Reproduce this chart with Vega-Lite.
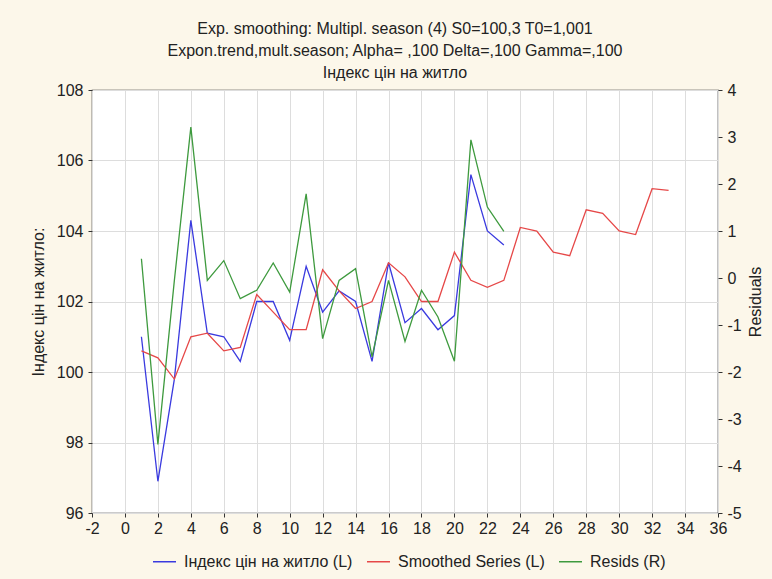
{
  "$schema": "https://vega.github.io/schema/vega-lite/v6.json",
  "width": 626,
  "height": 423,
  "autosize": {"type": "none"},
  "padding": {"left": 92, "top": 90, "right": 54, "bottom": 66},
  "background": "#fcf7ea",
  "title": {
    "text": ["Exp. smoothing: Multipl. season (4) S0=100,3 T0=1,001", "Expon.trend,mult.season; Alpha=  ,100 Delta=,100 Gamma=,100", "Індекс цін на житло"],
    "font": "Liberation Sans",
    "fontSize": 16,
    "fontWeight": "normal",
    "color": "#222",
    "lineHeight": 22,
    "anchor": "middle",
    "offset": 1,
    "dx": -10
  },
  "config": {
    "view": {"stroke": "#333", "strokeWidth": 1.2, "fill": "white"},
    "axis": {
      "labelFont": "Liberation Sans",
      "labelFontSize": 16,
      "labelColor": "#222",
      "labelOverlap": false,
      "titleFont": "Liberation Sans",
      "titleFontSize": 16,
      "titleFontWeight": "normal",
      "titleColor": "#222",
      "domain": false,
      "tickColor": "#333",
      "tickSize": 4,
      "gridColor": "#dddddd",
      "gridWidth": 1
    },
    "legend": {
      "labelFont": "Liberation Sans",
      "labelFontSize": 16,
      "labelColor": "#222"
    }
  },
  "data": {
    "values": [
      {"t": 1, "s": "Індекс цін на житло (L)", "v": 101.0},
      {"t": 2, "s": "Індекс цін на житло (L)", "v": 96.9},
      {"t": 3, "s": "Індекс цін на житло (L)", "v": 99.8},
      {"t": 4, "s": "Індекс цін на житло (L)", "v": 104.3},
      {"t": 5, "s": "Індекс цін на житло (L)", "v": 101.1},
      {"t": 6, "s": "Індекс цін на житло (L)", "v": 101.0},
      {"t": 7, "s": "Індекс цін на житло (L)", "v": 100.3},
      {"t": 8, "s": "Індекс цін на житло (L)", "v": 102.0},
      {"t": 9, "s": "Індекс цін на житло (L)", "v": 102.0},
      {"t": 10, "s": "Індекс цін на житло (L)", "v": 100.9},
      {"t": 11, "s": "Індекс цін на житло (L)", "v": 103.0},
      {"t": 12, "s": "Індекс цін на житло (L)", "v": 101.7},
      {"t": 13, "s": "Індекс цін на житло (L)", "v": 102.3},
      {"t": 14, "s": "Індекс цін на житло (L)", "v": 102.0},
      {"t": 15, "s": "Індекс цін на житло (L)", "v": 100.3},
      {"t": 16, "s": "Індекс цін на житло (L)", "v": 103.1},
      {"t": 17, "s": "Індекс цін на житло (L)", "v": 101.4},
      {"t": 18, "s": "Індекс цін на житло (L)", "v": 101.8},
      {"t": 19, "s": "Індекс цін на житло (L)", "v": 101.2},
      {"t": 20, "s": "Індекс цін на житло (L)", "v": 101.6},
      {"t": 21, "s": "Індекс цін на житло (L)", "v": 105.6},
      {"t": 22, "s": "Індекс цін на житло (L)", "v": 104.0},
      {"t": 23, "s": "Індекс цін на житло (L)", "v": 103.6},
      {"t": 1, "s": "Smoothed Series (L)", "v": 100.6},
      {"t": 2, "s": "Smoothed Series (L)", "v": 100.4},
      {"t": 3, "s": "Smoothed Series (L)", "v": 99.8},
      {"t": 4, "s": "Smoothed Series (L)", "v": 101.0},
      {"t": 5, "s": "Smoothed Series (L)", "v": 101.1},
      {"t": 6, "s": "Smoothed Series (L)", "v": 100.6},
      {"t": 7, "s": "Smoothed Series (L)", "v": 100.7},
      {"t": 8, "s": "Smoothed Series (L)", "v": 102.2},
      {"t": 9, "s": "Smoothed Series (L)", "v": 101.7},
      {"t": 10, "s": "Smoothed Series (L)", "v": 101.2},
      {"t": 11, "s": "Smoothed Series (L)", "v": 101.2},
      {"t": 12, "s": "Smoothed Series (L)", "v": 102.9},
      {"t": 13, "s": "Smoothed Series (L)", "v": 102.3},
      {"t": 14, "s": "Smoothed Series (L)", "v": 101.8},
      {"t": 15, "s": "Smoothed Series (L)", "v": 102.0},
      {"t": 16, "s": "Smoothed Series (L)", "v": 103.1},
      {"t": 17, "s": "Smoothed Series (L)", "v": 102.7},
      {"t": 18, "s": "Smoothed Series (L)", "v": 102.0},
      {"t": 19, "s": "Smoothed Series (L)", "v": 102.0},
      {"t": 20, "s": "Smoothed Series (L)", "v": 103.4},
      {"t": 21, "s": "Smoothed Series (L)", "v": 102.6},
      {"t": 22, "s": "Smoothed Series (L)", "v": 102.4},
      {"t": 23, "s": "Smoothed Series (L)", "v": 102.6},
      {"t": 24, "s": "Smoothed Series (L)", "v": 104.1},
      {"t": 25, "s": "Smoothed Series (L)", "v": 104.0},
      {"t": 26, "s": "Smoothed Series (L)", "v": 103.4},
      {"t": 27, "s": "Smoothed Series (L)", "v": 103.3},
      {"t": 28, "s": "Smoothed Series (L)", "v": 104.6},
      {"t": 29, "s": "Smoothed Series (L)", "v": 104.5},
      {"t": 30, "s": "Smoothed Series (L)", "v": 104.0},
      {"t": 31, "s": "Smoothed Series (L)", "v": 103.9},
      {"t": 32, "s": "Smoothed Series (L)", "v": 105.2},
      {"t": 33, "s": "Smoothed Series (L)", "v": 105.15},
      {"t": 1, "s": "Resids (R)", "v": 0.41},
      {"t": 2, "s": "Resids (R)", "v": -3.54},
      {"t": 3, "s": "Resids (R)", "v": -0.05},
      {"t": 4, "s": "Resids (R)", "v": 3.21},
      {"t": 5, "s": "Resids (R)", "v": -0.05},
      {"t": 6, "s": "Resids (R)", "v": 0.37},
      {"t": 7, "s": "Resids (R)", "v": -0.44},
      {"t": 8, "s": "Resids (R)", "v": -0.26},
      {"t": 9, "s": "Resids (R)", "v": 0.32},
      {"t": 10, "s": "Resids (R)", "v": -0.3},
      {"t": 11, "s": "Resids (R)", "v": 1.79},
      {"t": 12, "s": "Resids (R)", "v": -1.29},
      {"t": 13, "s": "Resids (R)", "v": -0.05},
      {"t": 14, "s": "Resids (R)", "v": 0.2},
      {"t": 15, "s": "Resids (R)", "v": -1.68},
      {"t": 16, "s": "Resids (R)", "v": -0.05},
      {"t": 17, "s": "Resids (R)", "v": -1.35},
      {"t": 18, "s": "Resids (R)", "v": -0.26},
      {"t": 19, "s": "Resids (R)", "v": -0.83},
      {"t": 20, "s": "Resids (R)", "v": -1.77},
      {"t": 21, "s": "Resids (R)", "v": 2.94},
      {"t": 22, "s": "Resids (R)", "v": 1.51},
      {"t": 23, "s": "Resids (R)", "v": 0.99}
    ]
  },
  "encoding": {
    "x": {
      "field": "t", "type": "quantitative",
      "scale": {"domain": [-2, 36], "nice": false, "zero": false},
      "axis": {"title": null, "values": [-2,0,2,4,6,8,10,12,14,16,18,20,22,24,26,28,30,32,34,36], "grid": true, "labelPadding": 3, "labelOverlap": false, "labelFlush": false, "labelBound": false, "labelExpr": "toString(datum.value)"}
    }
  },
  "layer": [
    {
      "transform": [{"filter": "datum.s !== 'Resids (R)'"}],
      "mark": {"type": "line", "strokeWidth": 1.3},
      "encoding": {
        "y": {
          "field": "v", "type": "quantitative",
          "scale": {"domain": [96, 108], "nice": false, "zero": false},
          "axis": {"title": "Індекс цін на житло:", "values": [96,98,100,102,104,106,108], "grid": true, "titlePadding": 10, "labelPadding": 5, "labelOverlap": false}
        },
        "color": {
          "field": "s", "type": "nominal",
          "scale": {"domain": ["Індекс цін на житло (L)", "Smoothed Series (L)", "Resids (R)"], "range": ["#3a3adf", "#e64848", "#3e9a3e"]},
          "legend": {"title": null, "orient": "none", "direction": "horizontal", "legendX": 60, "legendY": 459, "symbolType": "stroke", "symbolSize": 530, "symbolStrokeWidth": 1.5, "columnPadding": 10, "labelOffset": 7, "labelLimit": 400}
        },
        "detail": {"field": "s"}
      }
    },
    {
      "transform": [{"filter": "datum.s === 'Resids (R)'"}],
      "mark": {"type": "line", "strokeWidth": 1.3},
      "encoding": {
        "y": {
          "field": "v", "type": "quantitative",
          "scale": {"domain": [-5, 4], "nice": false, "zero": false},
          "axis": {"orient": "right", "title": "Residuals", "titleAngle": 270, "titleBaseline": "top", "values": [-5,-4,-3,-2,-1,0,1,2,3,4], "grid": false, "titlePadding": 6, "labelPadding": 5, "labelOverlap": false, "labelExpr": "toString(datum.value)"}
        },
        "color": {"field": "s", "type": "nominal"}
      }
    }
  ],
  "resolve": {"scale": {"y": "independent"}}
}
